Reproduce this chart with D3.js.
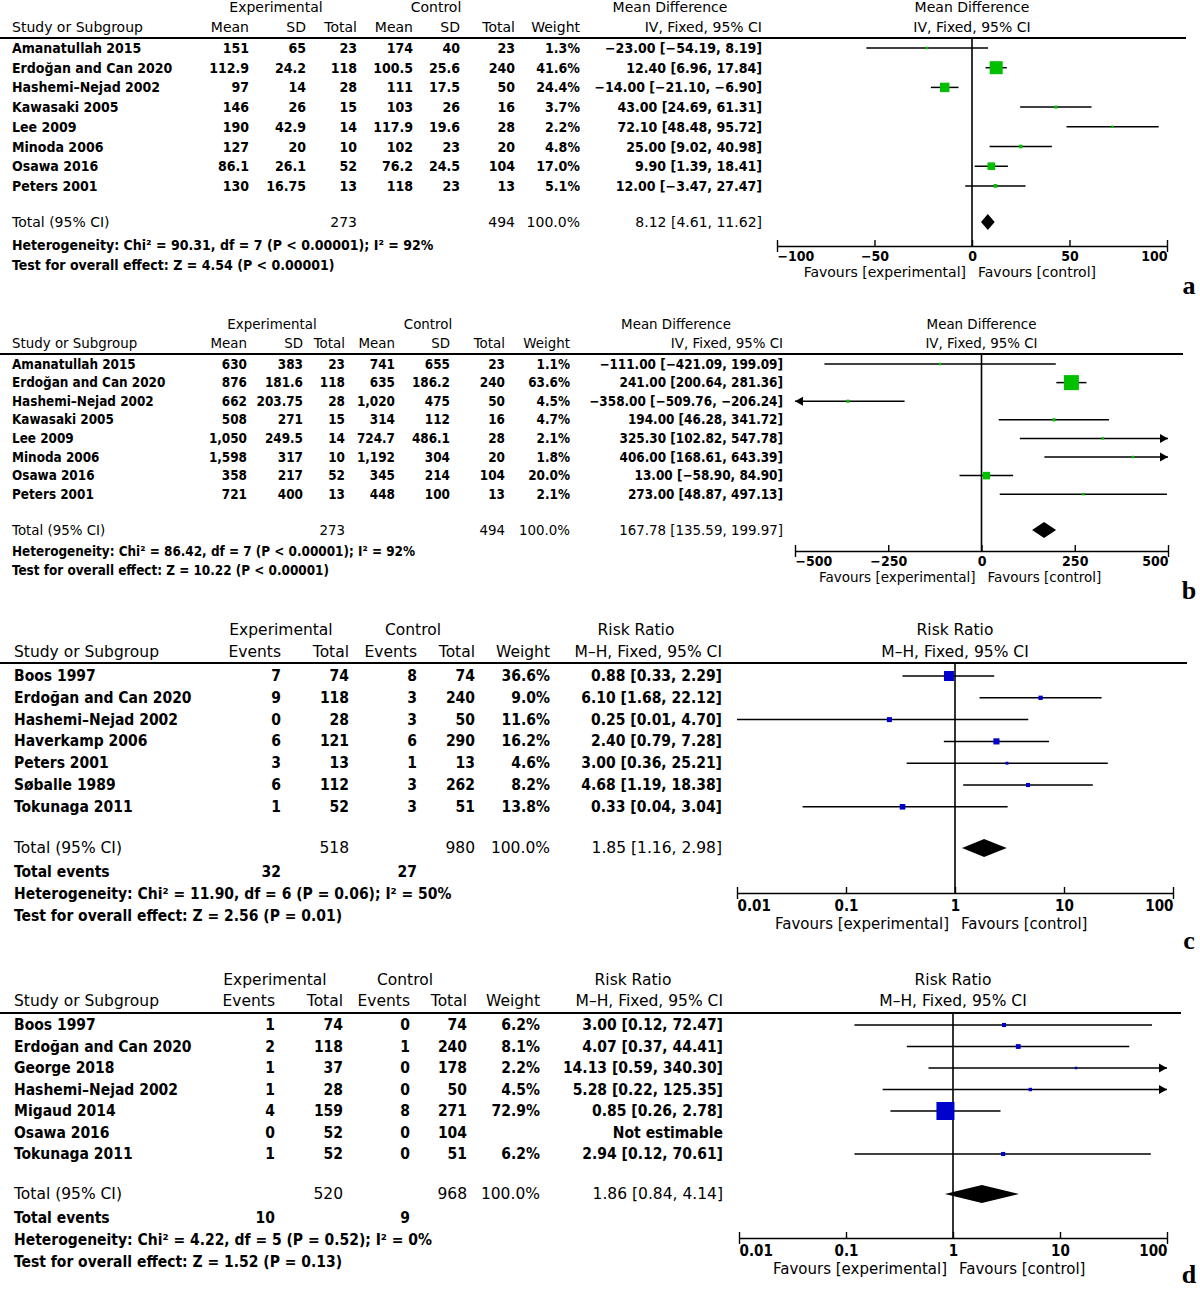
<!DOCTYPE html>
<html>
<head>
<meta charset="utf-8">
<script src="https://cdn.jsdelivr.net/npm/d3@7"></script>
<style>
body { margin: 0; background: #fff; }
text { dominant-baseline: central; fill: #000; }
.hd { font-family: "DejaVu Sans", sans-serif; }
.dt { font-family: "DejaVu Sans Condensed", "DejaVu Sans", sans-serif; font-weight: bold; font-stretch: condensed; }
.lt { font-family: "Liberation Serif", serif; font-weight: bold; }
</style>
</head>
<body>
<script>
// ---- panel a : mean difference ----
var studiesA = ["Amanatullah 2015","Erdoğan and Can 2020","Hashemi–Nejad 2002","Kawasaki 2005","Lee 2009","Minoda 2006","Osawa 2016","Peters 2001"];
var expMeanA = [151,112.9,97,146,190,127,86.1,130];
var expSdA = [65,24.2,14,26,42.9,20,26.1,16.75];
var expTotalA = [23,118,28,15,14,10,52,13];
var ctlMeanA = [174,100.5,111,103,117.9,102,76.2,118];
var ctlSdA = [40,25.6,17.5,26,19.6,23,24.5,23];
var ctlTotalA = [23,240,50,16,28,20,104,13];
var weightA = [1.3,41.6,24.4,3.7,2.2,4.8,17.0,5.1];
var estA = [-23.00,12.40,-14.00,43.00,72.10,25.00,9.90,12.00];
var loA = [-54.19,6.96,-21.10,24.69,48.48,9.02,1.39,-3.47];
var hiA = [8.19,17.84,-6.90,61.31,95.72,40.98,18.41,27.47];
var totalA = [273,494,100.0];
var pooledA = [8.12,4.61,11.62];
var hetA = "Heterogeneity: Chi² = 90.31, df = 7 (P < 0.00001); I² = 92%";
var testA = "Test for overall effect: Z = 4.54 (P < 0.00001)";
var ticksA = [-100,-50,0,50,100];

// ---- panel b : mean difference ----
var studiesB = ["Amanatullah 2015","Erdoğan and Can 2020","Hashemi–Nejad 2002","Kawasaki 2005","Lee 2009","Minoda 2006","Osawa 2016","Peters 2001"];
var expMeanB = [630,876,662,508,1050,1598,358,721];
var expSdB = [383,181.6,203.75,271,249.5,317,217,400];
var expTotalB = [23,118,28,15,14,10,52,13];
var ctlMeanB = [741,635,1020,314,724.7,1192,345,448];
var ctlSdB = [655,186.2,475,112,486.1,304,214,100];
var ctlTotalB = [23,240,50,16,28,20,104,13];
var weightB = [1.1,63.6,4.5,4.7,2.1,1.8,20.0,2.1];
var estB = [-111.00,241.00,-358.00,194.00,325.30,406.00,13.00,273.00];
var loB = [-421.09,200.64,-509.76,46.28,102.82,168.61,-58.90,48.87];
var hiB = [199.09,281.36,-206.24,341.72,547.78,643.39,84.90,497.13];
var totalB = [273,494,100.0];
var pooledB = [167.78,135.59,199.97];
var hetB = "Heterogeneity: Chi² = 86.42, df = 7 (P < 0.00001); I² = 92%";
var testB = "Test for overall effect: Z = 10.22 (P < 0.00001)";
var ticksB = [-500,-250,0,250,500];

// ---- panel c : risk ratio ----
var studiesC = ["Boos 1997","Erdoğan and Can 2020","Hashemi–Nejad 2002","Haverkamp 2006","Peters 2001","Søballe 1989","Tokunaga 2011"];
var expEventsC = [7,9,0,6,3,6,1];
var expTotalC = [74,118,28,121,13,112,52];
var ctlEventsC = [8,3,3,6,1,3,3];
var ctlTotalC = [74,240,50,290,13,262,51];
var weightC = [36.6,9.0,11.6,16.2,4.6,8.2,13.8];
var estC = [0.88,6.10,0.25,2.40,3.00,4.68,0.33];
var loC = [0.33,1.68,0.01,0.79,0.36,1.19,0.04];
var hiC = [2.29,22.12,4.70,7.28,25.21,18.38,3.04];
var totalC = [518,980,100.0];
var eventsC = [32,27];
var pooledC = [1.85,1.16,2.98];
var hetC = "Heterogeneity: Chi² = 11.90, df = 6 (P = 0.06); I² = 50%";
var testC = "Test for overall effect: Z = 2.56 (P = 0.01)";
var ticksC = [0.01,0.1,1,10,100];

// ---- panel d : risk ratio ----
var studiesD = ["Boos 1997","Erdoğan and Can 2020","George 2018","Hashemi–Nejad 2002","Migaud 2014","Osawa 2016","Tokunaga 2011"];
var expEventsD = [1,2,1,1,4,0,1];
var expTotalD = [74,118,37,28,159,52,52];
var ctlEventsD = [0,1,0,0,8,0,0];
var ctlTotalD = [74,240,178,50,271,104,51];
var weightD = [6.2,8.1,2.2,4.5,72.9,null,6.2];
var estD = [3.00,4.07,14.13,5.28,0.85,null,2.94];
var loD = [0.12,0.37,0.59,0.22,0.26,null,0.12];
var hiD = [72.47,44.41,340.30,125.35,2.78,null,70.61];
var totalD = [520,968,100.0];
var eventsD = [10,9];
var pooledD = [1.86,0.84,4.14];
var hetD = "Heterogeneity: Chi² = 4.22, df = 5 (P = 0.52); I² = 0%";
var testD = "Test for overall effect: Z = 1.52 (P = 0.13)";
var ticksD = [0.01,0.1,1,10,100];

var fmtN = d3.format(",");
var fmt2 = d3.format(".2f");
var fmtW = function(w) { return d3.format(".1f")(w) + "%"; };
var fmtCI = function(e, l, h) { return fmt2(e) + " [" + fmt2(l) + ", " + fmt2(h) + "]"; };

var svg = d3.select("body").append("svg")
  .attr("width", 1200)
  .attr("height", 1292);

function addText(g, cls, x, y, size, anchor, s) {
  return g.append("text").attr("class", cls)
    .attr("x", x).attr("y", y)
    .attr("text-anchor", anchor)
    .style("font-size", size + "px")
    .text(s);
}

function drawPanel(p) {
  var g = svg.append("g");
  var fs = p.fs;
  var x0 = p.x(p.nullVal);
  var dom = p.x.domain();

  // headers
  p.groups.forEach(function(d) { addText(g, "hd", d[1], p.h1y, fs, "middle", d[0]); });
  addText(g, "hd", p.left, p.h2y, fs, "start", "Study or Subgroup");
  p.heads.forEach(function(h, i) { addText(g, "hd", p.cols[i], p.h2y, fs, "end", h); });
  addText(g, "hd", x0, p.h1y, fs, "middle", p.plotHead[0]);
  addText(g, "hd", x0, p.h2y, fs, "middle", p.plotHead[1]);

  g.append("line")
    .attr("x1", 0).attr("x2", p.lineEnd)
    .attr("y1", p.lineY).attr("y2", p.lineY)
    .attr("stroke", "#000").attr("stroke-width", 1.8);

  var rowY = function(i) { return p.rowY0 + i * p.step; };

  // study rows
  p.studies.forEach(function(s, i) {
    addText(g, "dt", p.left, rowY(i), fs, "start", s);
    p.cells(i).forEach(function(c, j) {
      if (c !== null) addText(g, "dt", p.cols[j], rowY(i), fs, "end", c);
    });
  });

  // total rows
  addText(g, "hd", p.left, p.totalY, fs, "start", "Total (95% CI)");
  addText(g, "hd", p.cols[p.totCols[0]], p.totalY, fs, "end", p.totals[0]);
  addText(g, "hd", p.cols[p.totCols[1]], p.totalY, fs, "end", p.totals[1]);
  addText(g, "hd", p.cols[p.totCols[2]], p.totalY, fs, "end", d3.format(".1f")(p.totals[2]) + "%");
  addText(g, "hd", p.cols[p.cols.length - 1], p.totalY, fs, "end", fmtCI(p.pooled[0], p.pooled[1], p.pooled[2]));
  if (p.events) {
    addText(g, "dt", p.left, p.eventsY, fs, "start", "Total events");
    addText(g, "dt", p.cols[0], p.eventsY, fs, "end", p.events[0]);
    addText(g, "dt", p.cols[2], p.eventsY, fs, "end", p.events[1]);
  }
  addText(g, "dt", p.left, p.hetY, fs, "start", p.het);
  addText(g, "dt", p.left, p.testY, fs, "start", p.test);

  // plot: null line
  g.append("line")
    .attr("x1", x0).attr("x2", x0)
    .attr("y1", p.lineY).attr("y2", p.axisY)
    .attr("stroke", "#000").attr("stroke-width", 1.6);

  var size = d3.scalePow().exponent(0.6).domain([0, d3.max(p.weight)]).range([0, p.maxSq]);

  p.est.forEach(function(e, i) {
    if (e === null) return;
    var y = rowY(i);
    var l = Math.max(p.lo[i], dom[0]), h = Math.min(p.hi[i], dom[1]);
    g.append("line")
      .attr("x1", p.x(l)).attr("x2", p.x(h))
      .attr("y1", y).attr("y2", y)
      .attr("stroke", "#000").attr("stroke-width", 1.5);
    if (p.hi[i] > dom[1]) {
      var xr = p.x(dom[1]);
      g.append("path").attr("d", "M" + xr + "," + y + "L" + (xr - 8) + "," + (y - 4.5) + "L" + (xr - 8) + "," + (y + 4.5) + "Z").attr("fill", "#000");
    }
    if (p.lo[i] < dom[0]) {
      var xl = p.x(dom[0]);
      g.append("path").attr("d", "M" + xl + "," + y + "L" + (xl + 8) + "," + (y - 4.5) + "L" + (xl + 8) + "," + (y + 4.5) + "Z").attr("fill", "#000");
    }
    var s = Math.max(2.5, size(p.weight[i]));
    g.append("rect")
      .attr("x", p.x(e) - s / 2).attr("y", y - s / 2)
      .attr("width", s).attr("height", s)
      .attr("fill", p.color);
  });

  // pooled diamond
  var dy = p.totalY;
  g.append("path")
    .attr("d", "M" + p.x(p.pooled[1]) + "," + dy +
      "L" + p.x(p.pooled[0]) + "," + (dy - p.dh) +
      "L" + p.x(p.pooled[2]) + "," + dy +
      "L" + p.x(p.pooled[0]) + "," + (dy + p.dh) + "Z")
    .attr("fill", "#000");

  // axis
  var n = p.ticks.length;
  var ag = g.append("g")
    .attr("transform", "translate(0," + p.axisY + ")")
    .call(d3.axisBottom(p.x).tickValues(p.ticks).tickFormat(p.tickFmt).tickSizeOuter(0).tickSize(0));
  ag.select(".domain").attr("stroke", "#000").attr("stroke-width", 1.6);
  ag.selectAll(".tick line")
    .attr("y1", -6)
    .attr("y2", function(d, i) { return (i === 0 || i === n - 1) ? 6 : 0; })
    .attr("stroke", "#000").attr("stroke-width", 1.4);
  ag.selectAll(".tick text")
    .attr("class", "dt")
    .attr("y", p.tickDy).attr("dy", null)
    .attr("text-anchor", function(d, i) { return i === 0 ? "start" : (i === n - 1 ? "end" : "middle"); })
    .style("font-size", p.tfs + "px");

  addText(g, "hd", x0 - 6, p.favY, p.ffs, "end", "Favours [experimental]");
  addText(g, "hd", x0 + 6, p.favY, p.ffs, "start", "Favours [control]");
  addText(g, "lt", 1189, p.letterY, 26, "middle", p.letter);
}

var mdHeads = ["Mean","SD","Total","Mean","SD","Total","Weight","IV, Fixed, 95% CI"];
var rrHeads = ["Events","Total","Events","Total","Weight","M–H, Fixed, 95% CI"];
var intFmt = d3.format("d");
var rrFmt = function(d) { return String(d); };

drawPanel({
  studies: studiesA, weight: weightA, est: estA, lo: loA, hi: hiA,
  cells: function(i) {
    return [fmtN(expMeanA[i]), fmtN(expSdA[i]), expTotalA[i], fmtN(ctlMeanA[i]), fmtN(ctlSdA[i]), ctlTotalA[i], fmtW(weightA[i]), fmtCI(estA[i], loA[i], hiA[i])];
  },
  totals: totalA, pooled: pooledA, totCols: [2, 5, 6], het: hetA, test: testA,
  x: d3.scaleLinear().domain([-100, 100]).range([777, 1167]), nullVal: 0,
  ticks: ticksA, tickFmt: intFmt,
  groups: [["Experimental", 276], ["Control", 436], ["Mean Difference", 670]],
  heads: mdHeads, plotHead: ["Mean Difference", "IV, Fixed, 95% CI"],
  cols: [249, 306, 357, 413, 460, 515, 580, 762],
  left: 12, fs: 14, tfs: 14, ffs: 14, h1y: 7, h2y: 27, lineY: 38, lineEnd: 1186,
  rowY0: 48, step: 19.7, totalY: 222, hetY: 245, testY: 265,
  axisY: 246, tickDy: 10, favY: 272, letterY: 285, letter: "a",
  color: "#00c000", maxSq: 13, dh: 8
});

drawPanel({
  studies: studiesB, weight: weightB, est: estB, lo: loB, hi: hiB,
  cells: function(i) {
    return [fmtN(expMeanB[i]), fmtN(expSdB[i]), expTotalB[i], fmtN(ctlMeanB[i]), fmtN(ctlSdB[i]), ctlTotalB[i], fmtW(weightB[i]), fmtCI(estB[i], loB[i], hiB[i])];
  },
  totals: totalB, pooled: pooledB, totCols: [2, 5, 6], het: hetB, test: testB,
  x: d3.scaleLinear().domain([-500, 500]).range([795, 1168]), nullVal: 0,
  ticks: ticksB, tickFmt: intFmt,
  groups: [["Experimental", 272], ["Control", 428], ["Mean Difference", 676]],
  heads: mdHeads, plotHead: ["Mean Difference", "IV, Fixed, 95% CI"],
  cols: [247, 303, 345, 395, 450, 505, 570, 783],
  left: 12, fs: 13.4, tfs: 14, ffs: 13.5, h1y: 324, h2y: 343, lineY: 354, lineEnd: 1183,
  rowY0: 364, step: 18.6, totalY: 530, hetY: 551, testY: 570,
  axisY: 551, tickDy: 10, favY: 577, letterY: 590, letter: "b",
  color: "#00c000", maxSq: 15, dh: 8
});

drawPanel({
  studies: studiesC, weight: weightC, est: estC, lo: loC, hi: hiC,
  cells: function(i) {
    return [expEventsC[i], expTotalC[i], ctlEventsC[i], ctlTotalC[i], fmtW(weightC[i]), fmtCI(estC[i], loC[i], hiC[i])];
  },
  totals: totalC, pooled: pooledC, totCols: [1, 3, 4], events: eventsC, het: hetC, test: testC,
  x: d3.scaleLog().domain([0.01, 100]).range([737, 1173]), nullVal: 1,
  ticks: ticksC, tickFmt: rrFmt,
  groups: [["Experimental", 281], ["Control", 413], ["Risk Ratio", 636]],
  heads: rrHeads, plotHead: ["Risk Ratio", "M–H, Fixed, 95% CI"],
  cols: [281, 349, 417, 475, 550, 722],
  left: 14, fs: 15.5, tfs: 15, ffs: 15, h1y: 630, h2y: 652, lineY: 663, lineEnd: 1187,
  rowY0: 676, step: 21.8, totalY: 848, eventsY: 872, hetY: 894, testY: 916,
  axisY: 893, tickDy: 13, favY: 924, letterY: 940, letter: "c",
  color: "#0000cc", maxSq: 10, dh: 9
});

drawPanel({
  studies: studiesD, weight: weightD, est: estD, lo: loD, hi: hiD,
  cells: function(i) {
    if (estD[i] === null) return [expEventsD[i], expTotalD[i], ctlEventsD[i], ctlTotalD[i], null, "Not estimable"];
    return [expEventsD[i], expTotalD[i], ctlEventsD[i], ctlTotalD[i], fmtW(weightD[i]), fmtCI(estD[i], loD[i], hiD[i])];
  },
  totals: totalD, pooled: pooledD, totCols: [1, 3, 4], events: eventsD, het: hetD, test: testD,
  x: d3.scaleLog().domain([0.01, 100]).range([739, 1167]), nullVal: 1,
  ticks: ticksD, tickFmt: rrFmt,
  groups: [["Experimental", 275], ["Control", 405], ["Risk Ratio", 633]],
  heads: rrHeads, plotHead: ["Risk Ratio", "M–H, Fixed, 95% CI"],
  cols: [275, 343, 410, 467, 540, 723],
  left: 14, fs: 15.5, tfs: 15, ffs: 15, h1y: 980, h2y: 1001, lineY: 1013, lineEnd: 1181,
  rowY0: 1025, step: 21.5, totalY: 1194, eventsY: 1218, hetY: 1240, testY: 1262,
  axisY: 1238, tickDy: 13, favY: 1269, letterY: 1274, letter: "d",
  color: "#0000cc", maxSq: 18, dh: 9
});
</script>
</body>
</html>
